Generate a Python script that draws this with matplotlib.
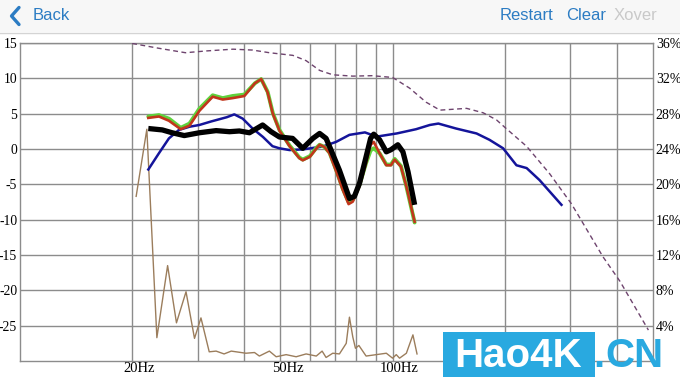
import matplotlib
matplotlib.use("Agg")
import matplotlib.pyplot as plt
from matplotlib.lines import Line2D
from matplotlib.patches import Rectangle
from matplotlib.ticker import NullLocator

# measured responses (Hz, dB)
freq_blue = [22.1, 23.6, 25.1, 26.7, 28.5, 30.3, 32.6, 35.9, 37.6, 39.6, 42.1, 44.9, 47.6,
             49.7, 52.9, 57.5, 64.9, 70.5, 76.6, 84.3, 90.6, 102.6, 115.6, 125.9, 132.7,
             148, 168, 182, 198, 215, 229, 248, 284]
blue_db = [-2.9, -0.6, 1.5, 2.7, 3.15, 3.4, 3.9, 4.5, 4.9, 4.3, 2.9, 1.7, 0.4,
           0.1, -0.15, -0.05, 0.35, 1.0, 2.0, 2.35, 1.75, 2.2, 2.8, 3.4, 3.6,
           2.9, 2.2, 1.3, 0.1, -2.3, -2.7, -4.4, -7.9]

freq_red = [22.1, 23.6, 25.1, 27.0, 28.5, 30.3, 32.9, 35.0, 37.2, 40.0, 42.7, 44.4, 46.2,
            47.7, 49.7, 52.9, 56.2, 57.4, 60.0, 62.5, 63.7, 65.6, 67.7, 70.6, 73.5, 76.2,
            78.2, 81.5, 84.9, 87.3, 89.0, 92.3, 96.2, 99.0, 101.3, 105.3, 108.9, 114.6]
red_db = [4.4, 4.6, 4.0, 2.8, 3.3, 5.4, 7.4, 7.0, 7.2, 7.5, 9.3, 9.9, 8.0,
          5.0, 2.6, 0.4, -1.3, -1.6, -1.1, 0.1, 0.6, 0.3, -0.6, -3.2, -5.8, -7.8,
          -7.45, -5.3, -2.0, 0.6, 1.0, -0.6, -2.3, -2.3, -1.5, -2.5, -5.3, -10.3]
green_db = [4.6, 4.8, 4.3, 3.0, 3.6, 5.7, 7.6, 7.2, 7.5, 7.7, 9.3, 9.9, 8.1,
            5.1, 2.7, 0.5, -1.2, -1.5, -1.0, 0.2, 0.6, 0.3, -0.5, -3.0, -5.6, -7.5,
            -7.2, -5.1, -2.0, -0.2, 0.1, -0.6, -2.2, -2.2, -1.4, -2.4, -5.3, -10.4]

freq_black = [22.1, 24.1, 25.6, 27.6, 30.3, 33.6, 36.5, 38.8, 41.3, 44.8, 47.2, 49.7,
              53.9, 57.4, 61.1, 63.7, 66.3, 68.3, 72.0, 76.6, 79.0, 81.5, 84.9, 87.3,
              89.0, 92.3, 96.2, 99.0, 103.3, 106.6, 110.0, 114.6]
black_db = [2.9, 2.7, 2.3, 1.9, 2.3, 2.6, 2.45, 2.55, 2.3, 3.4, 2.45, 1.7,
            1.5, 0.1, 1.5, 2.2, 1.5, -0.1, -3.0, -7.0, -6.7, -4.85, -1.1, 1.5,
            2.1, 1.3, -0.4, -0.1, 0.6, -0.4, -3.2, -7.9]

freq_brown = [20.5, 21.9, 23.3, 24.9, 26.3, 27.9, 29.4, 30.6, 32.2, 33.6, 35.3, 36.9,
              40.4, 42.6, 43.9, 46.7, 48.7, 51.8, 55.1, 58.6, 62.4, 64.7, 66.3, 69.1,
              72.0, 75.1, 76.6, 78.2, 79.5, 81.2, 84.9, 90.4, 96.2, 100, 102.3, 104.4,
              108.9, 113.4, 116.3]
brown_db = [-6.7, 2.8, -26.7, -16.5, -24.6, -20.2, -26.8, -23.9, -28.7, -28.6, -29.0, -28.6,
            -28.9, -28.8, -29.3, -28.6, -29.4, -29.1, -29.4, -29.0, -29.3, -28.6, -29.5, -28.9,
            -29.0, -27.5, -23.8, -26.6, -28.2, -27.8, -29.3, -29.1, -28.9, -29.6, -29.1, -29.6,
            -28.9, -26.3, -29.0]

# dashed curve on the right (percent) axis
freq_dash = [20, 23.6, 27.8, 31.6, 37.3, 42.1, 46.7, 54.0, 58.6, 63.7, 69.1, 78.2, 88.1,
             100, 111, 123, 134, 158, 175, 190, 202, 229, 264, 302, 367, 408, 486]
dash_pct = [35.95, 35.4, 34.9, 35.1, 35.3, 35.2, 34.9, 34.6, 34.0, 32.9, 32.4, 32.25, 32.3,
            32.1, 30.9, 29.3, 28.4, 28.6, 28.1, 27.3, 26.3, 24.3, 21.2, 17.8, 11.8, 9.0, 3.5]

grid_freqs = [20, 30, 40, 50, 60, 70, 80, 90, 100, 200, 300, 400]
x_labels = ['20Hz', '50Hz', '100Hz']
x_label_freqs = [20, 50, 100]
y_ticks = [-25, -20, -15, -10, -5, 0, 5, 10, 15]
pct_ticks = [4, 8, 12, 16, 20, 24, 28, 32, 36]

W, H = 680, 382
fig = plt.figure(figsize=(W / 100, H / 100), dpi=100)
fig.patch.set_facecolor('white')

def fx(x):
    return x / W

def fy(y):
    return 1 - y / H

# top bar
fig.patches.append(Rectangle((0, fy(32)), 1, 32 / H, transform=fig.transFigure,
                             facecolor='#f7f7f7', edgecolor='none', zorder=0))
fig.lines.append(Line2D([0, 1], [fy(32.5), fy(32.5)], transform=fig.transFigure,
                        color='#d4d4d4', lw=1))
blue_ui = '#2c7cc3'
fig.lines.append(Line2D([fx(19), fx(11.5), fx(19)], [fy(7.5), fy(16), fy(24.5)],
                        transform=fig.transFigure, color=blue_ui, lw=2.4,
                        solid_capstyle='round', solid_joinstyle='round'))
hfont = dict(family=['Liberation Sans', 'DejaVu Sans'], fontsize=12, va='center')
fig.text(fx(33), fy(16), 'Back', color=blue_ui, ha='left', **hfont)
fig.text(fx(500), fy(16), 'Restart', color=blue_ui, ha='left', **hfont)
fig.text(fx(566), fy(16), 'Clear', color=blue_ui, ha='left', **hfont)
fig.text(fx(614), fy(16), 'Xover', color='#c9c9c9', ha='left', **hfont)

ax = fig.add_axes([fx(20), 21 / H, 633 / W, 318 / H])
ax.set_xscale('log')
ax.set_xlim(10, 500)
ax.set_ylim(-30, 15)
ax.set_xticks(grid_freqs)
ax.xaxis.set_minor_locator(NullLocator())
ax.set_xticklabels([])
ax.set_yticks(y_ticks)
ax.set_yticklabels([str(v) for v in y_ticks])
ax.tick_params(length=0)
ax.tick_params(axis='y', pad=2)
ax.grid(color='#8c8c8c', lw=1.0)
for s in ax.spines.values():
    s.set_color('#8c8c8c')
    s.set_linewidth(1.0)

serif = ['Liberation Serif', 'DejaVu Serif']
for lab in ax.get_yticklabels():
    lab.set_family(serif)
    lab.set_fontsize(9.8)
for f, lab in zip(x_label_freqs, x_labels):
    ax.annotate(lab, xy=(f, 0), xycoords=('data', 'axes fraction'), xytext=(7, -1),
                textcoords='offset pixels', ha='center', va='top', fontsize=10.5,
                family=serif)

ax.plot(freq_brown, brown_db, color='#9b7d5c', lw=1.0, zorder=3)
ax.plot(freq_blue, blue_db, color='#14149a', lw=1.8, zorder=4)
ax.plot(freq_red, green_db, color='#5fd23c', lw=2.8, zorder=5, solid_capstyle='round')
ax.plot(freq_red, red_db, color='#c2361c', lw=1.9, zorder=6)
ax.plot(freq_black, black_db, color='black', lw=3.8, zorder=7, solid_capstyle='butt')

ax2 = ax.twinx()
ax2.set_ylim(0, 36)
ax2.set_yticks(pct_ticks)
ax2.set_yticklabels(['%d%%' % v for v in pct_ticks])
ax2.tick_params(length=0, pad=2)
for lab in ax2.get_yticklabels():
    lab.set_family(serif)
    lab.set_fontsize(10)
for s in ax2.spines.values():
    s.set_visible(False)
ax2.plot(freq_dash, dash_pct, color='#6e446e', lw=1.0, dashes=(3.5, 2.5))

# watermark
wm = '#29a9e0'
fig.patches.append(Rectangle((fx(443), fy(377)), 152 / W, 45 / H, transform=fig.transFigure,
                             facecolor=wm, edgecolor='none', zorder=5))
wfont = dict(family=['Liberation Sans', 'DejaVu Sans'], fontsize=29, fontweight='bold',
             va='baseline', zorder=6)
fig.text(fx(454), fy(367), 'Hao4K', color='white', ha='left', **wfont)
fig.text(fx(593), fy(367), '.', color=wm, ha='left', **wfont)
fig.text(fx(605), fy(367), 'CN', color=wm, ha='left', **wfont)

fig.savefig('out.png', dpi=100)
